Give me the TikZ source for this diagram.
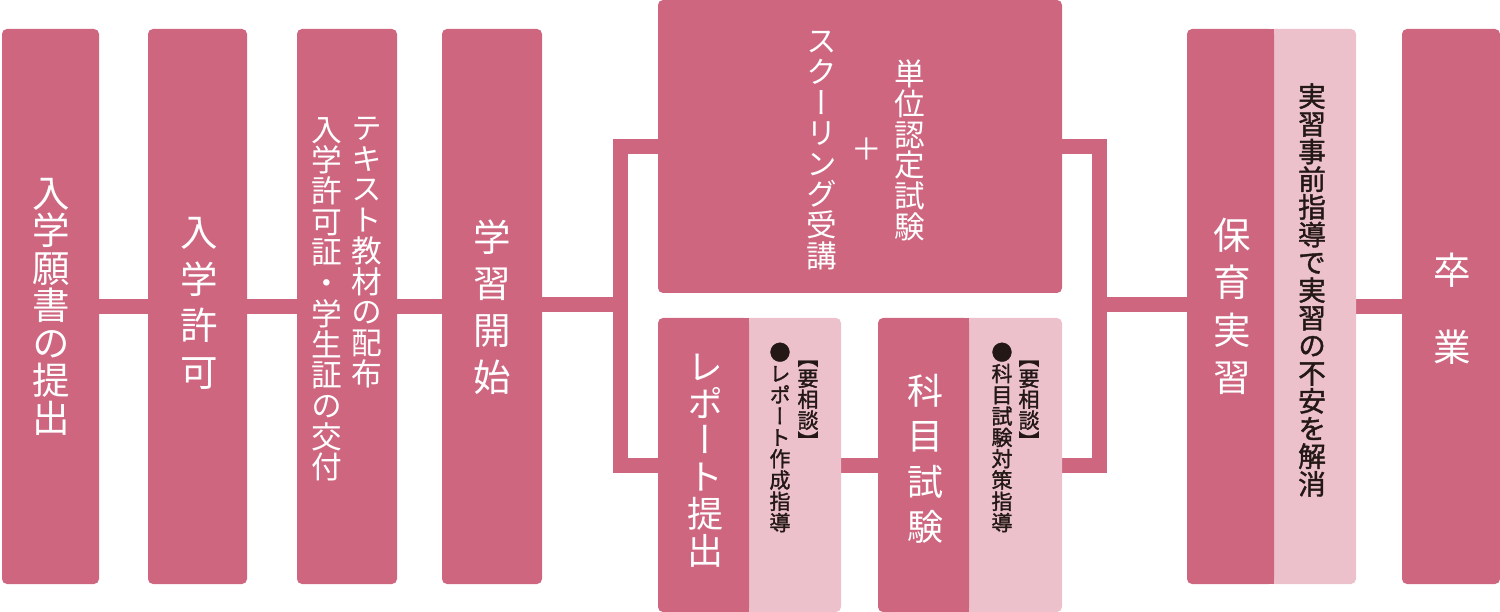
\documentclass[tikz,border=0pt]{standalone}
\usepackage{fontspec}
\usetikzlibrary{backgrounds}
\newfontfamily\jp[RawFeature={+vert}]{Noto Sans CJK JP}
\newfontfamily\jpink[RawFeature={+vert}, FakeBold=1.5]{Noto Sans CJK JP}
\definecolor{rosa}{HTML}{CE6680}
\definecolor{rosalight}{HTML}{ECC1CC}
\definecolor{ink}{HTML}{231815}
% one character under the other
\makeatletter
\newcommand\tate[2][1em]{\vbox{\baselineskip=#1\lineskip=0pt\lineskiplimit=-\maxdimen\tate@#2\@nil}}
\def\tate@#1{\ifx\@nil#1\else\hbox to 1em{\hss#1\hss}\expandafter\tate@\fi}
\makeatother
\begin{document}
\begin{tikzpicture}[x=1pt, y=-1pt,
    stage/.style={fill=rosa, rounded corners=5pt, inner sep=0pt},
    aside/.style={fill=rosalight, rounded corners=5pt, inner sep=0pt},
    link/.style={draw=rosa, line width=15pt, line join=miter},
    whitetate/.style={text=white, inner sep=0pt, font=\jp\fontsize{#1}{#1}\selectfont},
    inktate/.style={text=ink, inner sep=0pt, font=\jpink\fontsize{#1}{#1}\selectfont}]
    \useasboundingbox (0,0) rectangle (1500,612);

    \node[stage, minimum width=97pt, minimum height=555pt] (apply) at (50.5,306.5) {};
    \node[stage, minimum width=99pt, minimum height=555pt] (admit) at (197.5,306.5) {};
    \node[stage, minimum width=100pt, minimum height=555pt] (issue) at (347,306.5) {};
    \node[stage, minimum width=100pt, minimum height=555pt] (start) at (492,306.5) {};
    \node[stage, minimum width=404pt, minimum height=293pt] (school) at (860,146.5) {};

    \node[aside, minimum width=98pt, minimum height=294pt] (reportB) at (792,465) {};
    \node[stage, minimum width=91pt, minimum height=294pt] (report) at (703.5,465) {};
    \fill[rosa] (report.north east) rectangle ([xshift=-6pt]report.south east);

    \node[aside, minimum width=99pt, minimum height=294pt] (examB) at (1012.5,465) {};
    \node[stage, minimum width=91pt, minimum height=294pt] (exam) at (923.5,465) {};
    \fill[rosa] (exam.north east) rectangle ([xshift=-6pt]exam.south east);

    \node[aside, minimum width=88pt, minimum height=555pt] (hoikuB) at (1312,306.5) {};
    \node[stage, minimum width=87pt, minimum height=555pt] (hoiku) at (1230.5,306.5) {};
    \fill[rosa] (hoiku.north east) rectangle ([xshift=-6pt]hoiku.south east);

    \node[stage, minimum width=98pt, minimum height=555pt] (sotsu) at (1451,306.5) {};

    % texts
    \node[whitetate=37.5] (apply-t) at (51,306.5) {\tate{入学願書の提出}};
    \node[whitetate=37.5] (admit-t) at (199,303.5) {\tate[46.7pt]{入学許可}};
    \node[whitetate=30.7, anchor=north] (issue-a) at (367,117) {\tate{テキスト教材の配布}};
    \node[whitetate=30.7, anchor=north] (issue-b) at (327,117) {\tate{入学許可証・学生証の交付}};
    \node[whitetate=37.5] (start-t) at (492.5,307) {\tate[46.7pt]{学習開始}};

    \node[whitetate=30.6] (school-a) at (910,150) {\tate{単位認定試験}};
    \node[whitetate=30.6] (school-p) at (867,149) {＋};
    \node[whitetate=30.6] (school-b) at (822,150.5) {\tate{スクーリング受講}};

    \node[whitetate=36] (report-t) at (705,460.5) {\tate[36.7pt]{レポート提出}};
    \node[inktate=21] (report-a) at (808,405) {\tate{【要相談】}};
    \node[inktate=21] (report-b) at (780,437.5) {\tate[21.3pt]{●レポート作成指導}};

    \node[whitetate=36] (exam-t) at (925,459) {\tate[45.5pt]{科目試験}};
    \node[inktate=21] (exam-a) at (1029,405) {\tate{【要相談】}};
    \node[inktate=21] (exam-b) at (1002,437.5) {\tate[21.3pt]{●科目試験対策指導}};

    \node[whitetate=37.5] (hoiku-t) at (1232,306.5) {\tate[47.3pt]{保育実習}};
    \node[inktate=27.7] (hoiku-a) at (1312,290) {\tate{実習事前指導で実習の不安を解消}};
    \node[whitetate=37.5] (sotsu-t) at (1452,309) {\tate[77pt]{卒業}};

    \coordinate (lsplit) at (620.8,304.5);
    \coordinate (rsplit) at (1099.5,304.5);

    \begin{scope}[on background layer]
        \draw[link] (apply) -- (admit);
        \draw[link] (admit) -- (issue);
        \draw[link] (issue) -- (start);
        \draw[link] (start.east |- lsplit) -- (lsplit);
        \draw[link] (school) -| (lsplit) |- (report);
        \draw[link] (report) -- (exam);
        \draw[link] (school) -| (rsplit) |- (exam);
        \draw[link] (rsplit) -- (rsplit -| hoiku.west);
        \draw[link] (hoiku) -- (sotsu);
    \end{scope}
\end{tikzpicture}
\end{document}
